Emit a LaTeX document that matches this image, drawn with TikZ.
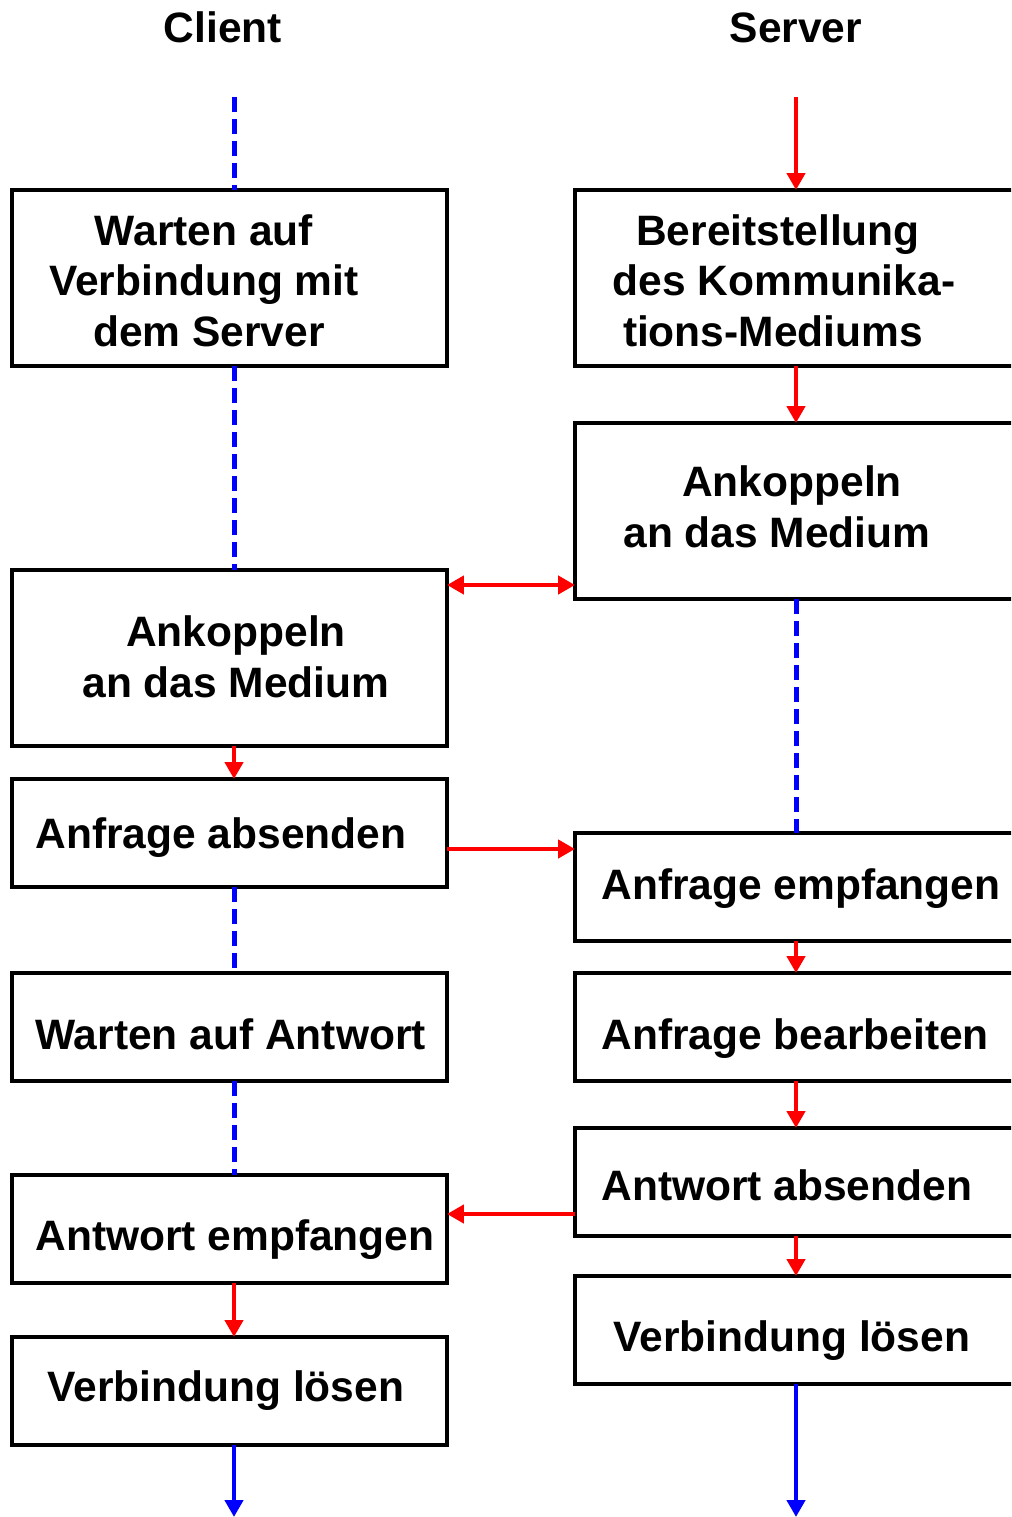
\documentclass[tikz,border=0pt]{standalone}
\usepackage{fontspec}
\setmainfont{Liberation Sans}
\usetikzlibrary{arrows.meta}
\begin{document}
\begin{tikzpicture}[x=0.02cm,y=-0.02cm,
  box/.style={draw=black,line width=0.09cm,rectangle,inner sep=0pt,outer sep=0pt},
  cbox/.style={box,minimum width=8.7cm},
  sbox/.style={box,minimum width=9.3cm},
  tall/.style={minimum height=3.52cm},
  low/.style={minimum height=2.16cm},
  lbl/.style={font=\fontsize{24.2}{28.7}\selectfont\bfseries,inner sep=0pt,align=center,anchor=base},
  lbll/.style={lbl,align=left,anchor=base west},
  flow/.style={draw=red,line width=0.09cm,-{Triangle[length=0.34cm,width=0.36cm]}},
  both/.style={draw=red,line width=0.09cm,{Triangle[length=0.34cm,width=0.36cm]}-{Triangle[length=0.34cm,width=0.36cm]}},
  wait/.style={draw=blue,line width=0.1cm,dash pattern=on 0.3cm off 0.14cm},
  final/.style={draw=blue,line width=0.09cm,-{Triangle[length=0.34cm,width=0.36cm]}},
]
\useasboundingbox (0,0) rectangle (1011,1517);
\clip (0,0) rectangle (1011,1517);

% column headings
\node[lbl] (tc) at (223,43) {Client};
\node[lbl] (ts) at (796,43) {Server};

% client boxes
\node[cbox,tall] (c1) at (229.5,278) {};
\node[cbox,tall] (c2) at (229.5,658) {};
\node[cbox,low]  (c3) at (229.5,833) {};
\node[cbox,low]  (c4) at (229.5,1027) {};
\node[cbox,low]  (c5) at (229.5,1229) {};
\node[cbox,low]  (c6) at (229.5,1391) {};

% server boxes (running off the right edge)
\node[sbox,tall] (s1) at (807.5,278) {};
\node[sbox,tall] (s2) at (807.5,511) {};
\node[sbox,low]  (s3) at (807.5,887) {};
\node[sbox,low]  (s4) at (807.5,1027) {};
\node[sbox,low]  (s5) at (807.5,1182) {};
\node[sbox,low]  (s6) at (807.5,1330) {};

% client texts (multi-line nodes sit on the baseline of their last line)
\node[lbl] (c1t) at (204,346) {Warten auf\\Verbindung mit\hspace*{0.12cm}\\\hspace*{0.2cm}dem Server};
\node[lbl] (c2t) at (236,697) {Ankoppeln\\an das Medium};
\node[lbll] (c3t) at (35,848) {Anfrage absenden};
\node[lbll] (c4t) at (35,1049) {Warten auf Antwort};
\node[lbll] (c5t) at (35,1250) {Antwort empfangen};
\node[lbll] (c6t) at (47,1401) {Verbindung l\"osen};

% server texts
\node[lbl] (s1t) at (778,346) {Bereitstellung\\\hspace*{0.24cm}des Kommunika-\\tions-Mediums\hspace*{0.2cm}};
\node[lbl] (s2t) at (784.5,547) {\hspace*{0.3cm}Ankoppeln\\an das Medium\hspace*{0.3cm}};
\node[lbll] (s3t) at (601,899) {Anfrage empfangen};
\node[lbll] (s4t) at (601,1049) {Anfrage bearbeiten};
\node[lbll] (s5t) at (601,1200) {Antwort absenden};
\node[lbll] (s6t) at (613,1351) {Verbindung l\"osen};

% lane coordinates
\coordinate (ctop) at (234,97);
\coordinate (stop) at (796,97);
\coordinate (cend) at (234,1517);
\coordinate (send) at (796,1517);
\coordinate (h1) at (0,585);
\coordinate (h2) at (0,849);
\coordinate (h3) at (0,1214);

% client lane
\draw[wait] (ctop) -- (c1.north -| ctop);
\draw[wait] (c1.south -| ctop) -- (c2.north -| ctop);
\draw[flow] (c2.south -| ctop) -- (c3.north -| ctop);
\draw[wait] (c3.south -| ctop) -- (c4.north -| ctop);
\draw[wait] (c4.south -| ctop) -- (c5.north -| ctop);
\draw[flow] (c5.south -| ctop) -- (c6.north -| ctop);
\draw[final] (c6.south -| ctop) -- (cend);

% server lane
\draw[flow] (stop) -- (s1.north -| stop);
\draw[flow] (s1.south -| stop) -- (s2.north -| stop);
\draw[wait] (s2.south -| stop) -- (s3.north -| stop);
\draw[flow] (s3.south -| stop) -- (s4.north -| stop);
\draw[flow] (s4.south -| stop) -- (s5.north -| stop);
\draw[flow] (s5.south -| stop) -- (s6.north -| stop);
\draw[final] (s6.south -| stop) -- (send);

% messages between client and server
\draw[both] (c2.east |- h1) -- (s2.west |- h1);
\draw[flow] (c3.east |- h2) -- (s3.west |- h2);
\draw[flow] (s5.west |- h3) -- (c5.east |- h3);
\end{tikzpicture}
\end{document}
